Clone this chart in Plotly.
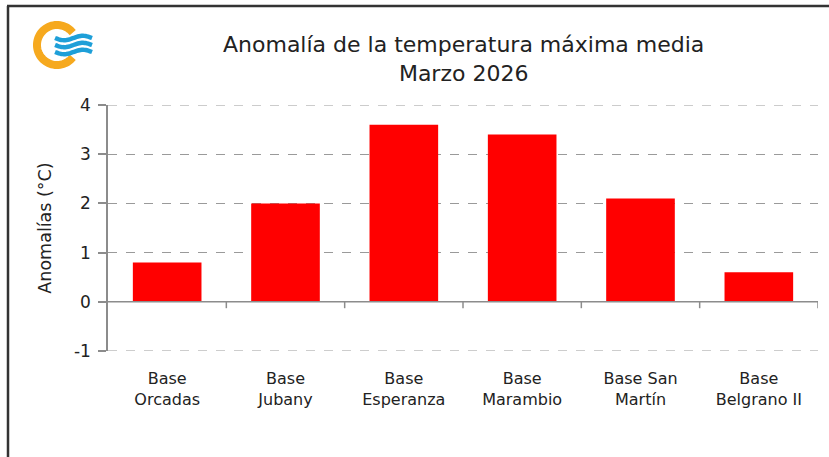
import numpy as np
import plotly.graph_objects as go

bases = ["Base<br>Orcadas", "Base<br>Jubany", "Base<br>Esperanza",
         "Base<br>Marambio", "Base San<br>Martín", "Base<br>Belgrano II"]
anomalias = [0.8, 2.0, 3.6, 3.4, 2.1, 0.6]
y_ticks = [-1, 0, 1, 2, 3, 4]
y_ticktext = ["-1", "0", "1", "2", "3", "4"]

W, H = 829, 457
L, R, T, B = 108, 11, 105, 106
FONT = "DejaVu Sans"
GRAY = "#8c8c8c"


def px2paper(x, y):
    """pixel (from top-left) -> paper coords of the plot area"""
    pw = W - L - R
    ph = H - T - B
    return (x - L) / pw, (H - B - y) / ph


def poly_path(pts):
    s = ""
    for i, (x, y) in enumerate(pts):
        px_, py_ = px2paper(x, y)
        s += ("M" if i == 0 else "L") + f"{px_:.4f},{py_:.4f} "
    return s


fig = go.Figure()
fig.add_trace(go.Bar(
    x=list(range(len(bases))), y=anomalias,
    marker=dict(color="#FF0000", line=dict(width=0)),
    width=0.58,
))

shapes = []
# gridlines at the range ends (plotly skips them)
for yv in (y_ticks[0], y_ticks[-1]):
    shapes.append(dict(type="line", xref="paper", yref="y", x0=0, x1=1,
                       y0=yv, y1=yv, layer="below",
                       line=dict(color="#9a9a9a", width=1, dash="dash")))
# x axis line at zero plus category separators
shapes.append(dict(type="line", xref="x", yref="y", x0=-0.5, x1=len(bases) - 0.5,
                   y0=0, y1=0, line=dict(color=GRAY, width=1.5)))
for k in range(len(bases)):
    shapes.append(dict(type="line", xref="x", yref="y", x0=k + 0.5, x1=k + 0.5,
                       y0=0, y1=-0.13, line=dict(color=GRAY, width=1.5)))

# outer frame (left and top sides visible)
shapes.append(dict(type="line", xref="paper", yref="paper",
                   x0=px2paper(8, 0)[0], x1=px2paper(8, 0)[0],
                   y0=px2paper(0, 6)[1], y1=px2paper(0, 470)[1],
                   line=dict(color="#333333", width=2.5)))
shapes.append(dict(type="line", xref="paper", yref="paper",
                   x0=px2paper(7, 0)[0], x1=px2paper(835, 0)[0],
                   y0=px2paper(0, 6)[1], y1=px2paper(0, 6)[1],
                   line=dict(color="#333333", width=2.5)))

# logo: orange open ring + blue waves
cx, cy, r = 57, 45, 20
th = np.linspace(np.radians(38), np.radians(322), 60)
ring = [(cx + r * np.cos(t), cy - r * np.sin(t)) for t in th]
shapes.append(dict(type="path", xref="paper", yref="paper", path=poly_path(ring),
                   line=dict(color="#F6A91E", width=8)))
for dy in (-7, 0, 7):
    xs = np.linspace(55, 92, 30)
    wave = [(x, cy + dy + 2.2 * np.sin((x - 55) / 37 * 2 * np.pi)) for x in xs]
    shapes.append(dict(type="path", xref="paper", yref="paper", path=poly_path(wave),
                       line=dict(color="#1E9FD8", width=4.5)))

annotations = [
    dict(text="Anomalía de la temperatura máxima media<br>Marzo 2026",
         xref="paper", yref="paper", x=px2paper(463, 0)[0], y=px2paper(0, 59)[1],
         showarrow=False, font=dict(family=FONT, size=22, color="#222222"),
         xanchor="center", yanchor="middle"),
]

fig.update_layout(
    width=W, height=H,
    margin=dict(l=L, r=R, t=T, b=B, autoexpand=False),
    paper_bgcolor="white", plot_bgcolor="white",
    showlegend=False,
    font=dict(family=FONT, size=16, color="#222222"),
    shapes=shapes,
    annotations=annotations,
    xaxis=dict(
        tickmode="array", tickvals=list(range(len(bases))), ticktext=bases,
        range=[-0.5, len(bases) - 0.5], showgrid=False, zeroline=False,
        showline=False, ticks="", ticklabelstandoff=16, automargin=False,
        tickfont=dict(family=FONT, size=16, color="#222222"),
    ),
    yaxis=dict(
        range=[-1, 4], tickvals=y_ticks, ticktext=y_ticktext,
        showgrid=True, gridcolor="#9a9a9a",
        griddash="dash", gridwidth=1, zeroline=False, automargin=False,
        showline=True, linecolor=GRAY, linewidth=1.5,
        ticks="outside", ticklen=8, tickcolor=GRAY, tickwidth=1.5,
        ticklabelstandoff=4,
        tickfont=dict(family=FONT, size=17, color="#222222"),
        title=dict(text="Anomalías (°C)", standoff=18,
                   font=dict(family=FONT, size=17.5, color="#222222")),
    ),
)

# the page body has a default 8px margin; drop it so pixel positions line up
fig.write_html("out.html", config={"displayModeBar": False},
               post_script="document.body.style.margin='0px';")
